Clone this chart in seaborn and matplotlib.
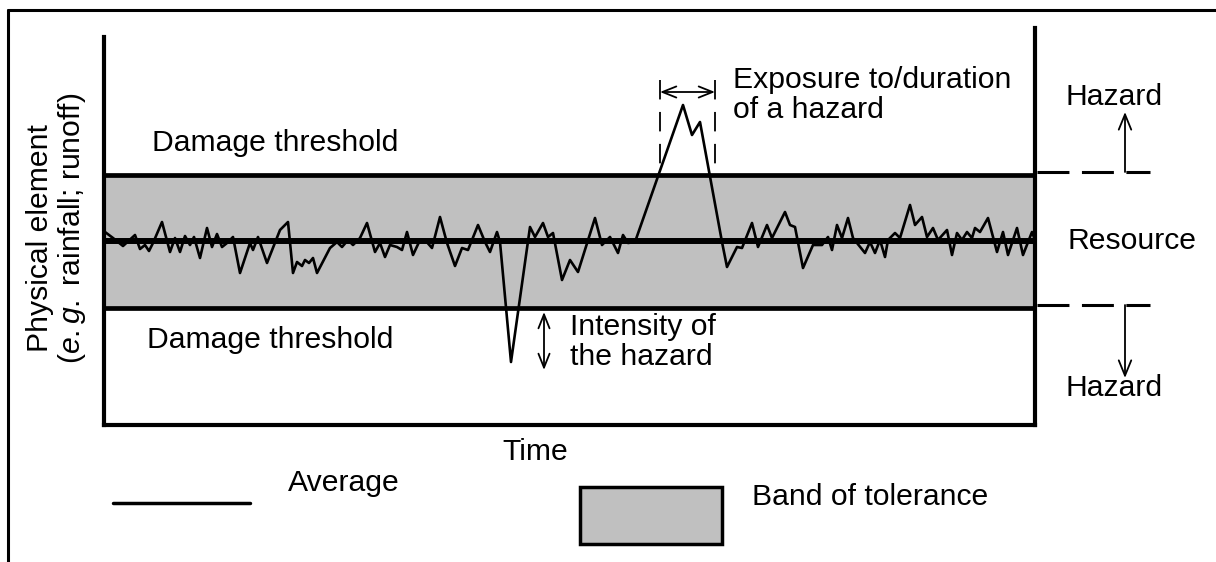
import numpy as np
import matplotlib
matplotlib.use("Agg")
import matplotlib.pyplot as plt
import seaborn as sns
from matplotlib.patches import Rectangle
from matplotlib.lines import Line2D

# ====================== data ======================
# time axis (arbitrary units) and observed physical element
time = [1, 9, 19, 31, 36, 41, 45, 49, 58, 66, 71, 76, 81, 86, 90, 96, 103, 108, 113, 118,
        123, 129, 136, 146, 149, 154, 163, 176, 184, 189, 193, 198, 201, 205, 209, 213, 226,
        233, 238, 244, 249, 256, 263, 271, 276, 281, 286, 293, 298, 303, 309, 316, 321, 328,
        336, 343, 351, 358, 364, 374, 381, 386, 393, 396, 407, 426, 431, 439, 444, 449, 458,
        466, 474, 491, 498, 506, 514, 519, 524, 531, 579, 588, 596, 618, 623, 633, 638, 648,
        654, 663, 668, 681, 686, 691, 699, 709, 718, 724, 728, 733, 738, 744, 749, 761, 766,
        771, 776, 781, 784, 791, 796, 806, 811, 818, 823, 829, 834, 843, 848, 853, 858, 863,
        868, 871, 876, 884, 893, 899, 904, 913, 919, 928, 931]
value = [19.3, 18.7, 17.9, 19.0, 17.6, 18.0, 17.4, 18.2, 20.3, 17.3, 18.7, 17.3, 18.9, 18.0,
         18.8, 16.7, 19.7, 17.8, 19.1, 17.8, 18.2, 18.8, 15.2, 18.2, 17.5, 18.8, 16.2, 19.5,
         20.3, 15.2, 16.3, 15.9, 16.5, 16.2, 16.7, 15.2, 17.7, 18.3, 17.8, 18.5, 18.0, 18.7,
         20.2, 17.3, 18.2, 16.8, 18.0, 17.8, 17.5, 19.3, 17.0, 18.5, 18.5, 17.7, 20.8, 18.2,
         15.9, 17.7, 17.5, 20.0, 18.3, 17.3, 19.3, 18.3, 6.3, 19.8, 18.8, 20.2, 18.8, 19.2,
         14.5, 16.5, 15.3, 20.7, 18.0, 18.8, 17.2, 19.0, 18.2, 18.3, 32.0, 29.0, 30.3, 18.3,
         15.8, 17.8, 17.7, 20.2, 17.8, 20.0, 18.7, 21.3, 20.0, 19.8, 15.7, 18.0, 18.0, 18.8,
         17.5, 20.0, 18.7, 20.7, 18.7, 17.2, 18.3, 17.2, 18.5, 16.8, 18.5, 19.2, 18.7, 22.0,
         20.0, 20.8, 18.8, 19.7, 18.5, 19.5, 17.0, 19.2, 18.5, 19.3, 18.7, 19.7, 19.3, 20.7,
         17.3, 19.3, 17.0, 19.7, 17.0, 19.3, 18.5]

average = 18.4
upper_threshold = 25.0
lower_threshold = 11.7

# ====================== style ======================
sns.set_style("white")
plt.rcParams['font.family'] = ['Liberation Sans', 'DejaVu Sans']
plt.rcParams['text.color'] = 'black'
plt.rcParams['mathtext.fontset'] = 'custom'
plt.rcParams['mathtext.rm'] = 'Liberation Sans'
plt.rcParams['mathtext.it'] = 'Liberation Sans:italic'
plt.rcParams['lines.scale_dashes'] = False
FS = 21.7
GREY = "#c0c0c0"
ARROW = "->,head_length=1.1,head_width=0.45"
DARROW = "<->,head_length=1.0,head_width=0.4"

fig = plt.figure(figsize=(12.16, 5.62), dpi=100)
ax = fig.add_axes([104 / 1216, 137 / 562, 931 / 1216, 397 / 562])
ax.set_xlim(0, 931)
ax.set_ylim(0, 39.7)
ax.set_xticks([])
ax.set_yticks([])

for side in ["left", "right", "bottom"]:
    ax.spines[side].set_linewidth(3)
    ax.spines[side].set_color("black")
    ax.spines[side].set_joinstyle("round")
ax.spines["top"].set_visible(False)
ax.spines["left"].set_bounds(0, 38.8)

# band of tolerance
ax.axhspan(lower_threshold, upper_threshold, color=GREY, lw=0, zorder=1)
ax.axhline(upper_threshold, color="black", lw=3.4, zorder=3)
ax.axhline(lower_threshold, color="black", lw=3.4, zorder=3)
ax.axhline(average, color="black", lw=4.3, zorder=3)

# observed series
sns.lineplot(x=time, y=value, color="black", lw=1.9, ax=ax, zorder=4)
ax.set_xlabel("")
ax.set_ylabel("")

# dashed threshold extensions on the right
for yv in (upper_threshold + 0.3, lower_threshold + 0.3):
    ax.plot([933, 1046], [yv, yv], color="black", lw=2.2, dashes=(23, 9),
            clip_on=False, zorder=3)

# hazard arrows on the right
ax.annotate("", xy=(1021, 31.3), xytext=(1021, 25.3), annotation_clip=False,
            arrowprops=dict(arrowstyle=ARROW, color="black", lw=1.3,
                            shrinkA=0, shrinkB=0))
ax.annotate("", xy=(1021, 4.7), xytext=(1021, 12.0), annotation_clip=False,
            arrowprops=dict(arrowstyle=ARROW, color="black", lw=1.3,
                            shrinkA=0, shrinkB=0))
ax.text(1010, 32.8, "Hazard", fontsize=FS, ha="center", va="center", clip_on=False)
ax.text(1010, 3.7, "Hazard", fontsize=FS, ha="center", va="center", clip_on=False)
ax.text(1028, 18.4, "Resource", fontsize=FS, ha="center", va="center", clip_on=False)

# threshold labels
ax.text(48, 28.2, "Damage threshold", fontsize=FS, ha="left", va="center")
ax.text(43, 8.5, "Damage threshold", fontsize=FS, ha="left", va="center")

# intensity annotation
ax.annotate("", xy=(440, 11.3), xytext=(440, 5.5),
            arrowprops=dict(arrowstyle=DARROW, color="black", lw=1.3,
                            shrinkA=0, shrinkB=0))
ax.text(466, 8.3, "Intensity of\nthe hazard", fontsize=FS, ha="left", va="center",
        linespacing=1.1)

# exposure / duration annotation
for xv in (556, 611):
    ax.plot([xv, xv], [34.5, 25.5], color="black", lw=1.3, dashes=(14, 9),
            clip_on=False, zorder=2)
ax.annotate("", xy=(611, 33.3), xytext=(556, 33.3), annotation_clip=False,
            arrowprops=dict(arrowstyle=DARROW, color="black", lw=1.3,
                            shrinkA=0, shrinkB=0))
ax.text(629, 33.0, "Exposure to/duration\nof a hazard", fontsize=FS, ha="left",
        va="center", linespacing=1.1, clip_on=False)

# axis labels
ax.text(431, -2.7, "Time", fontsize=FS, ha="center", va="center", clip_on=False)
fig.text(40 / 1216, 1 - 238 / 562, "Physical element", fontsize=FS, rotation=90,
         ha="center", va="center")
fig.text(72 / 1216, 1 - 228 / 562, r"($\mathit{e.g.}$ rainfall; runoff)", fontsize=FS,
         rotation=90, ha="center", va="center")

# legend
ax.plot([9, 146], [-7.8, -7.8], color="black", lw=2.5, clip_on=False)
ax.text(184, -5.8, "Average", fontsize=FS, ha="left", va="center", clip_on=False)
ax.add_patch(Rectangle((476, -11.9), 142, 5.7, facecolor=GREY, edgecolor="black",
                       lw=2.5, clip_on=False))
ax.text(648, -7.2, "Band of tolerance", fontsize=FS, ha="left", va="center",
        clip_on=False)

# outer frame
fig.add_artist(Line2D([8 / 1216, 1.0], [1 - 10 / 562, 1 - 10 / 562], color="black", lw=2.2))
fig.add_artist(Line2D([8 / 1216, 8 / 1216], [0, 1 - 10 / 562], color="black", lw=2.2))

fig.savefig("out.png", dpi=100)
